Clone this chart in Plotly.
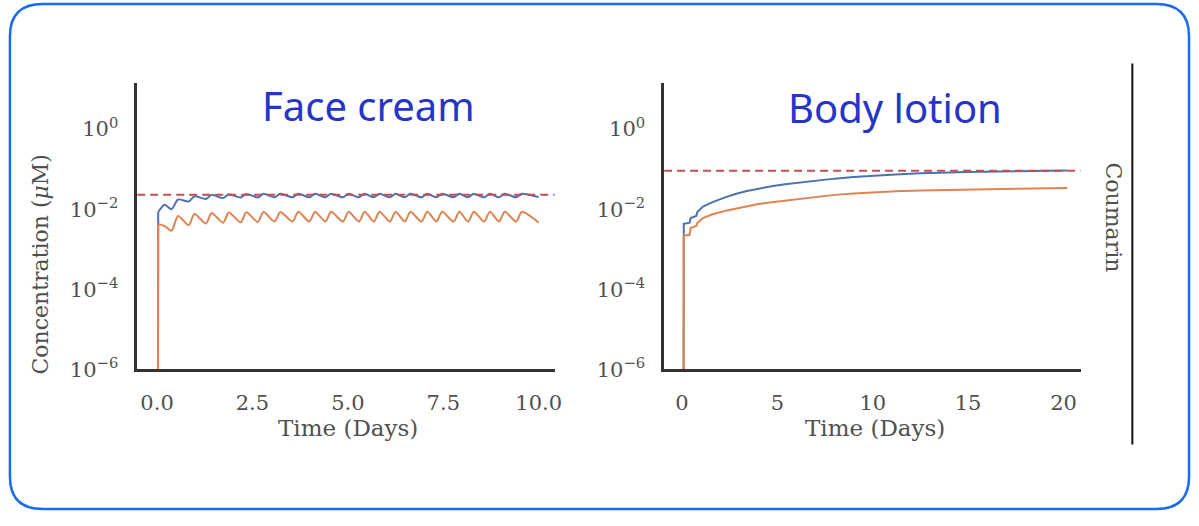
import plotly.graph_objects as go

W, H = 1199, 526

# ---------------- data ----------------
# Face cream: repeated applications -> sawtooth
fc_start_t = [0.02, 0.03, 0.20]
fc_blue_start = [1e-9, 0.0085, 0.013]
fc_orange_start = [1e-9, 0.0043, 0.0038]

fc_trough_t = [0.38, 0.83, 1.28, 1.73, 2.19, 2.64, 3.08, 3.55, 3.99, 4.41, 4.87,
               5.29, 5.68, 6.10, 6.49, 6.93, 7.32, 7.77, 8.15, 8.57, 8.96, 9.41]
fc_peak_t = [0.55, 0.98, 1.43, 1.88, 2.34, 2.79, 3.23, 3.70, 4.14, 4.56, 5.02,
             5.44, 5.83, 6.25, 6.64, 7.08, 7.47, 7.92, 8.30, 8.72, 9.11, 9.56]

fc_orange_trough = [0.0029, 0.0040, 0.0044, 0.0046, 0.0047, 0.0048, 0.0049, 0.0049,
                    0.0049, 0.0049, 0.0049, 0.0049, 0.0049, 0.0049, 0.0049, 0.0049,
                    0.0049, 0.0049, 0.0049, 0.0049, 0.0049, 0.0049]
fc_orange_peak = [0.0068, 0.0076, 0.0080, 0.0083, 0.0084, 0.0085, 0.0085, 0.0086,
                  0.0086, 0.0086, 0.0086, 0.0086, 0.0086, 0.0086, 0.0086, 0.0086,
                  0.0086, 0.0086, 0.0086, 0.0086, 0.0086, 0.0086]
fc_blue_trough = [0.0100, 0.0155, 0.0180, 0.0190, 0.0195, 0.0197, 0.0198, 0.0198,
                  0.0198, 0.0198, 0.0198, 0.0198, 0.0198, 0.0198, 0.0198, 0.0198,
                  0.0198, 0.0198, 0.0198, 0.0198, 0.0198, 0.0198]
fc_blue_peak = [0.0175, 0.0210, 0.0228, 0.0236, 0.0240, 0.0242, 0.0243, 0.0243,
                0.0243, 0.0243, 0.0243, 0.0243, 0.0243, 0.0243, 0.0243, 0.0243,
                0.0243, 0.0243, 0.0243, 0.0243, 0.0243, 0.0243]
fc_end_t = [10.0]
fc_blue_end = [0.0200]
fc_orange_end = [0.0046]
fc_threshold = 0.023

# Body lotion: smooth accumulation
bl_t = [0.08, 0.09, 0.40, 0.45, 0.75, 0.80, 1.1, 1.6, 2.3, 2.8, 3.4, 4.0, 4.7, 5.4,
        6.2, 7.0, 8.0, 9.0, 10.0, 11.2, 12.5, 13.8, 15.0, 17.5, 20.2]
bl_blue = [1e-9, 0.0043, 0.0046, 0.0060, 0.0068, 0.0085, 0.0117, 0.0150, 0.0200,
           0.0240, 0.0285, 0.0330, 0.0375, 0.0420, 0.0470, 0.0520, 0.0580, 0.0635,
           0.0685, 0.0735, 0.0785, 0.0825, 0.0855, 0.0890, 0.0920]
bl_orange = [1e-9, 0.0022, 0.0023, 0.0034, 0.0038, 0.0045, 0.0060, 0.0075, 0.0092,
             0.0104, 0.0120, 0.0135, 0.0150, 0.0165, 0.0185, 0.0205, 0.0228, 0.0248,
             0.0265, 0.0280, 0.0292, 0.0302, 0.0310, 0.0325, 0.0340]
bl_threshold = 0.091

panel_titles = ["Face cream", "Body lotion"]
row_label = "Coumarin"
x_title = "Time (Days)"
y_title = "Concentration (<i>μ</i>M)"
y_tickvals = [1e-6, 1e-4, 1e-2, 1]
y_ticktext = ["10<sup>−6</sup>", "10<sup>−4</sup>", "10<sup>−2</sup>", "10<sup>0</sup>"]
fc_xticks = [0.0, 2.5, 5.0, 7.5, 10.0]
fc_xticktext = ["0.0", "2.5", "5.0", "7.5", "10.0"]
bl_xticks = [0, 5, 10, 15, 20]

# ---------------- build series ----------------
def interleave(start_t, start_v, tr_t, tr_v, pk_t, pk_v, end_t, end_v):
    t, v = list(start_t), list(start_v)
    for a, b, c, d in zip(tr_t, tr_v, pk_t, pk_v):
        t += [a, c]
        v += [b, d]
    return t + list(end_t), v + list(end_v)

fc_t_b, fc_v_b = interleave(fc_start_t, fc_blue_start, fc_trough_t, fc_blue_trough,
                            fc_peak_t, fc_blue_peak, fc_end_t, fc_blue_end)
fc_t_o, fc_v_o = interleave(fc_start_t, fc_orange_start, fc_trough_t, fc_orange_trough,
                            fc_peak_t, fc_orange_peak, fc_end_t, fc_orange_end)

BLUE, ORANGE, RED = "#4C72B0", "#DD8452", "#C44E52"
TXT = "#505050"
SERIF = "DejaVu Serif"

def px_x(p):
    return p / W

def px_y(p):
    return 1 - p / H

fig = go.Figure()

fc_xrange = [-0.52, 10.42]
bl_xrange = [-0.94, 20.9]

# face cream: straight initial rise, then smooth sawtooth
for tt, vv, col in [(fc_t_b, fc_v_b, BLUE), (fc_t_o, fc_v_o, ORANGE)]:
    fig.add_trace(go.Scatter(x=tt[:2], y=vv[:2], mode="lines",
                             line=dict(color=col, width=2),
                             xaxis="x", yaxis="y", showlegend=False))
    fig.add_trace(go.Scatter(x=tt[1:], y=vv[1:], mode="lines",
                             line=dict(color=col, width=2, shape="spline", smoothing=0.7),
                             xaxis="x", yaxis="y", showlegend=False))
fig.add_trace(go.Scatter(x=fc_xrange, y=[fc_threshold, fc_threshold], mode="lines",
                         line=dict(color=RED, width=2, dash="8px,5px"),
                         xaxis="x", yaxis="y", showlegend=False))

fig.add_trace(go.Scatter(x=bl_t, y=bl_blue, mode="lines", line=dict(color=BLUE, width=2),
                         xaxis="x2", yaxis="y2", showlegend=False))
fig.add_trace(go.Scatter(x=bl_t, y=bl_orange, mode="lines", line=dict(color=ORANGE, width=2),
                         xaxis="x2", yaxis="y2", showlegend=False))
fig.add_trace(go.Scatter(x=bl_xrange, y=[bl_threshold, bl_threshold], mode="lines",
                         line=dict(color=RED, width=2, dash="8px,5px"),
                         xaxis="x2", yaxis="y2", showlegend=False))

ydom = [px_y(378), px_y(85)]
axis_common = dict(showgrid=False, zeroline=False, showline=True, linecolor="#333333",
                   linewidth=2.5, ticks="", tickfont=dict(family=SERIF, size=21, color=TXT))

fig.update_layout(
    width=W, height=H, margin=dict(l=0, r=0, t=0, b=0),
    paper_bgcolor="white", plot_bgcolor="white",
    xaxis=dict(domain=[px_x(138), px_x(558)], range=fc_xrange, anchor="y",
               tickvals=fc_xticks, ticktext=fc_xticktext, ticklabelstandoff=13, **axis_common),
    yaxis=dict(domain=ydom, type="log", range=[-6, 1.15], anchor="x",
               tickvals=y_tickvals, ticktext=y_ticktext, ticklabelstandoff=12, **axis_common),
    xaxis2=dict(domain=[px_x(668), px_x(1087)], range=bl_xrange, anchor="y2",
                tickvals=bl_xticks, ticklabelstandoff=13, **axis_common),
    yaxis2=dict(domain=ydom, type="log", range=[-6, 1.15], anchor="x2",
                tickvals=y_tickvals, ticktext=y_ticktext, ticklabelstandoff=12, **axis_common),
)

ann = []
ann.append(dict(x=px_x(371), y=px_y(108), text=panel_titles[0], showarrow=False,
                xref="paper", yref="paper", xanchor="center", yanchor="middle",
                font=dict(family="Noto Sans", size=40, color="#2634C8")))
ann.append(dict(x=px_x(900), y=px_y(110), text=panel_titles[1], showarrow=False,
                xref="paper", yref="paper", xanchor="center", yanchor="middle",
                font=dict(family="Noto Sans", size=40, color="#2634C8")))
ann.append(dict(x=px_x(350), y=px_y(438), text=x_title, showarrow=False,
                xref="paper", yref="paper", xanchor="center", yanchor="middle",
                font=dict(family=SERIF, size=23, color=TXT)))
ann.append(dict(x=px_x(880), y=px_y(438), text=x_title, showarrow=False,
                xref="paper", yref="paper", xanchor="center", yanchor="middle",
                font=dict(family=SERIF, size=23, color=TXT)))
ann.append(dict(x=px_x(41), y=px_y(270), text=y_title, showarrow=False, textangle=-90,
                xref="paper", yref="paper", xanchor="center", yanchor="middle",
                font=dict(family=SERIF, size=22, color=TXT)))
ann.append(dict(x=px_x(1120), y=px_y(223), text=row_label, showarrow=False, textangle=90,
                xref="paper", yref="paper", xanchor="center", yanchor="middle",
                font=dict(family=SERIF, size=22, color=TXT)))
fig.update_layout(annotations=ann)

# rounded border
x0, x1, y0, y1, r = 10, 1196, 4, 521, 33
def P(x, y):
    return f"{px_x(x):.5f},{px_y(y):.5f}"
path = (f"M {P(x0 + r, y0)} L {P(x1 - r, y0)} Q {P(x1, y0)} {P(x1, y0 + r)} "
        f"L {P(x1, y1 - r)} Q {P(x1, y1)} {P(x1 - r, y1)} "
        f"L {P(x0 + r, y1)} Q {P(x0, y1)} {P(x0, y1 - r)} "
        f"L {P(x0, y0 + r)} Q {P(x0, y0)} {P(x0 + r, y0)} Z")
fig.add_shape(type="path", path=path, xref="paper", yref="paper",
              line=dict(color="#1A6BF0", width=2.5))
fig.add_shape(type="line", x0=px_x(1139), x1=px_x(1139), y0=px_y(65), y1=px_y(455),
              xref="paper", yref="paper", line=dict(color="#111111", width=2))

fig.write_html("out.html")
